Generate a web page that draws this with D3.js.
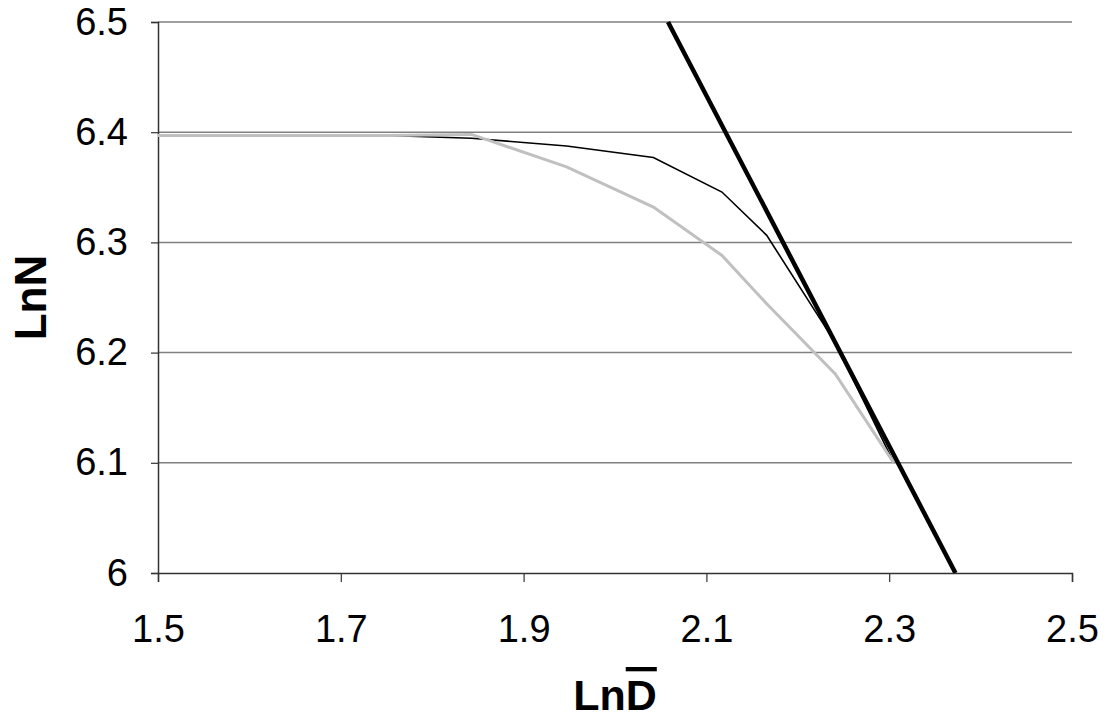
<!DOCTYPE html>
<html>
<head>
<meta charset="utf-8">
<script src="https://cdn.jsdelivr.net/npm/d3@7"></script>
<style>
  body { margin: 0; background: #fff; }
  svg { display: block; font-family: "Liberation Sans", Arial, sans-serif; }
</style>
</head>
<body>
<script>
const width = 1108;
const height = 721;

// data
const xTicks = [1.5, 1.7, 1.9, 2.1, 2.3, 2.5];
const yTicks = [6, 6.1, 6.2, 6.3, 6.4, 6.5];

const xValues = [1.5, 1.75, 1.843, 1.947, 2.042, 2.117, 2.166, 2.241, 2.305];
const thinValues = [6.397, 6.397, 6.3945, 6.3875, 6.377, 6.3457, 6.3064, 6.209, 6.10];
const greyValues = [6.397, 6.397, 6.398, 6.3685, 6.332, 6.2882, 6.2443, 6.1806, 6.10];

// straight fitted line
const fitX = [2.058, 2.3725];
const fitY = [6.5, 6.0];

const margin = {left: 158, right: 36, top: 22, bottom: 148};

const svg = d3.select("body")
    .append("svg")
    .attr("width", width)
    .attr("height", height);

const scaleX = d3.scaleLinear()
    .domain([1.5, 2.5])
    .range([margin.left, width - margin.right]);

const scaleY = d3.scaleLinear()
    .domain([6, 6.5])
    .range([height - margin.bottom, margin.top]);

svg.append("clipPath")
    .attr("id", "plot")
    .append("rect")
    .attr("x", scaleX(1.5))
    .attr("y", scaleY(6.5) - 3)
    .attr("width", scaleX(2.5) - scaleX(1.5))
    .attr("height", scaleY(6) - scaleY(6.5) + 3);

// gridlines
svg.append("g")
    .selectAll("line")
    .data(yTicks.filter(d => d > 6))
    .enter()
    .append("line")
    .attr("x1", scaleX(1.5))
    .attr("x2", scaleX(2.5))
    .attr("y1", d => scaleY(d))
    .attr("y2", d => scaleY(d))
    .attr("stroke", "#808080")
    .attr("stroke-width", 1.5);

const xAxis = d3.axisBottom(scaleX)
    .tickValues(xTicks)
    .tickSize(9)
    .tickPadding(33)
    .tickFormat(d3.format(".1f"));

const yAxis = d3.axisLeft(scaleY)
    .tickValues(yTicks)
    .tickSize(7)
    .tickPadding(23)
    .tickFormat(d => d === 6 ? "6" : d3.format(".1f")(d));

svg.append("g")
    .attr("transform", `translate(0, ${scaleY(6)})`)
    .call(xAxis)
    .call(g => g.select(".domain").attr("stroke", "#333").attr("stroke-width", 1.5))
    .call(g => g.selectAll(".tick line").attr("stroke", "#333").attr("stroke-width", 1.2))
    .call(g => g.selectAll("text").attr("font-size", 38).attr("fill", "#000").attr("font-family", "Liberation Sans, Arial, sans-serif"));

svg.append("g")
    .attr("transform", `translate(${scaleX(1.5)}, 0)`)
    .call(yAxis)
    .call(g => g.select(".domain").attr("stroke", "#333").attr("stroke-width", 1.5))
    .call(g => g.selectAll(".tick line").attr("stroke", "#333").attr("stroke-width", 1.2))
    .call(g => g.selectAll("text").attr("font-size", 38).attr("fill", "#000").attr("font-family", "Liberation Sans, Arial, sans-serif"));

const line = d3.line()
    .x(d => scaleX(d[0]))
    .y(d => scaleY(d[1]));

const plot = svg.append("g").attr("clip-path", "url(#plot)");

plot.append("path")
    .datum(xValues.map((x, i) => [x, thinValues[i]]))
    .attr("d", line)
    .attr("fill", "none")
    .attr("stroke", "#000")
    .attr("stroke-width", 1.6);

plot.append("path")
    .datum(xValues.map((x, i) => [x, greyValues[i]]))
    .attr("d", line)
    .attr("fill", "none")
    .attr("stroke", "#c0c0c0")
    .attr("stroke-width", 3);

plot.append("path")
    .datum(fitX.map((x, i) => [x, fitY[i]]))
    .attr("d", line)
    .attr("fill", "none")
    .attr("stroke", "#000")
    .attr("stroke-width", 4.5);

// axis titles
svg.append("text")
    .attr("transform", `translate(46, ${(scaleY(6) + scaleY(6.5)) / 2}) rotate(-90)`)
    .attr("text-anchor", "middle")
    .attr("font-size", 44)
    .attr("font-weight", "bold")
    .text("LnN");

const xt = svg.append("text")
    .attr("x", 615)
    .attr("y", 710)
    .attr("text-anchor", "middle")
    .attr("font-size", 43)
    .attr("font-weight", "bold");
xt.append("tspan").text("Ln");
xt.append("tspan").style("text-decoration", "overline").text("D");
</script>
</body>
</html>
